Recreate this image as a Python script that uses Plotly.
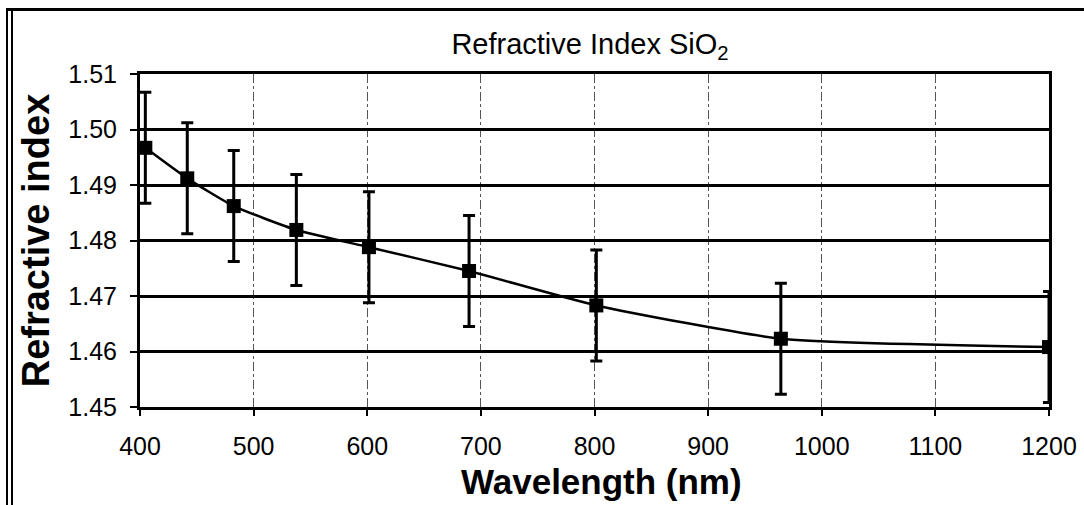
import plotly.graph_objects as go

# ---- data ----
wavelength_nm = [404.7, 441.6, 482.5, 537.6, 601.5, 689.6, 801.6, 964.0, 1200.0]
refractive_index = [1.4967, 1.4912, 1.4862, 1.4819, 1.4788, 1.4745, 1.4683, 1.4623, 1.4608]
index_error = [0.010, 0.010, 0.010, 0.010, 0.010, 0.010, 0.010, 0.010, 0.010]
x_ticks = [400, 500, 600, 700, 800, 900, 1000, 1100, 1200]
y_ticks = [1.45, 1.46, 1.47, 1.48, 1.49, 1.50, 1.51]

W, H = 1084, 505
L, R, T, B = 140, 35, 74, 98
PW, PH = W - L - R, H - T - B

FONT = "Arial, Liberation Sans, sans-serif"

fig = go.Figure()
fig.add_trace(go.Scatter(
    x=wavelength_nm, y=refractive_index,
    mode="lines+markers",
    line=dict(color="black", width=2.5, shape="spline", smoothing=0.5),
    marker=dict(symbol="square", size=14, color="black"),
    error_y=dict(type="data", array=index_error, visible=True,
                 color="black", thickness=3, width=6),
    showlegend=False,
))

def px_x(p):
    return (p - L) / PW

def px_y(p):
    return 1 - (p - T) / PH

shapes = [
    # outer frame: top line and double left line
    dict(type="line", xref="paper", yref="paper", x0=px_x(6), x1=px_x(W + 5),
         y0=px_y(9.5), y1=px_y(9.5), line=dict(color="black", width=3)),
    dict(type="line", xref="paper", yref="paper", x0=px_x(7), x1=px_x(7),
         y0=px_y(8), y1=px_y(H + 5), line=dict(color="black", width=2)),
    dict(type="line", xref="paper", yref="paper", x0=px_x(12), x1=px_x(12),
         y0=px_y(8), y1=px_y(H + 5), line=dict(color="black", width=2)),
]

annotations = [
    dict(text="<b>Wavelength (nm)</b>", xref="paper", yref="paper",
         x=px_x(601), y=px_y(481), xanchor="center", yanchor="middle",
         showarrow=False, font=dict(family=FONT, size=35, color="black")),
]

fig.update_layout(
    width=W, height=H,
    margin=dict(l=L, r=R, t=T, b=B, autoexpand=False),
    paper_bgcolor="white", plot_bgcolor="white",
    font=dict(family=FONT, color="black"),
    title=dict(text="Refractive Index SiO<sub>2</sub>",
               font=dict(family=FONT, size=29, color="black"),
               x=px_x(590), xref="paper", xanchor="center",
               y=1 - 44 / H, yref="container", yanchor="middle"),
    shapes=shapes,
    annotations=annotations,
    xaxis=dict(
        range=[400, 1200], tickvals=x_ticks, ticktext=[str(v) for v in x_ticks],
        showgrid=True, gridcolor="#555555", gridwidth=1, griddash="dashdot",
        showline=True, linecolor="black", linewidth=3, mirror=True,
        ticks="outside", ticklen=6, tickwidth=2, tickcolor="black",
        tickfont=dict(family=FONT, size=25, color="black"),
        ticklabelstandoff=9,
        zeroline=False,
    ),
    yaxis=dict(
        range=[1.45, 1.51], tickvals=y_ticks, ticktext=[f"{v:.2f}" for v in y_ticks],
        showgrid=True, gridcolor="black", gridwidth=2.5,
        showline=True, linecolor="black", linewidth=3, mirror=True,
        ticks="outside", ticklen=7, tickwidth=2, tickcolor="black",
        tickfont=dict(family=FONT, size=25, color="black"),
        ticklabelstandoff=8,
        zeroline=False,
        title=dict(text="<b>Refractive index</b>",
                   font=dict(family=FONT, size=38, color="black"),
                   standoff=8),
    ),
)

fig.write_html("out.html", config={"displayModeBar": False},
               post_script="document.body.style.margin='0';")
